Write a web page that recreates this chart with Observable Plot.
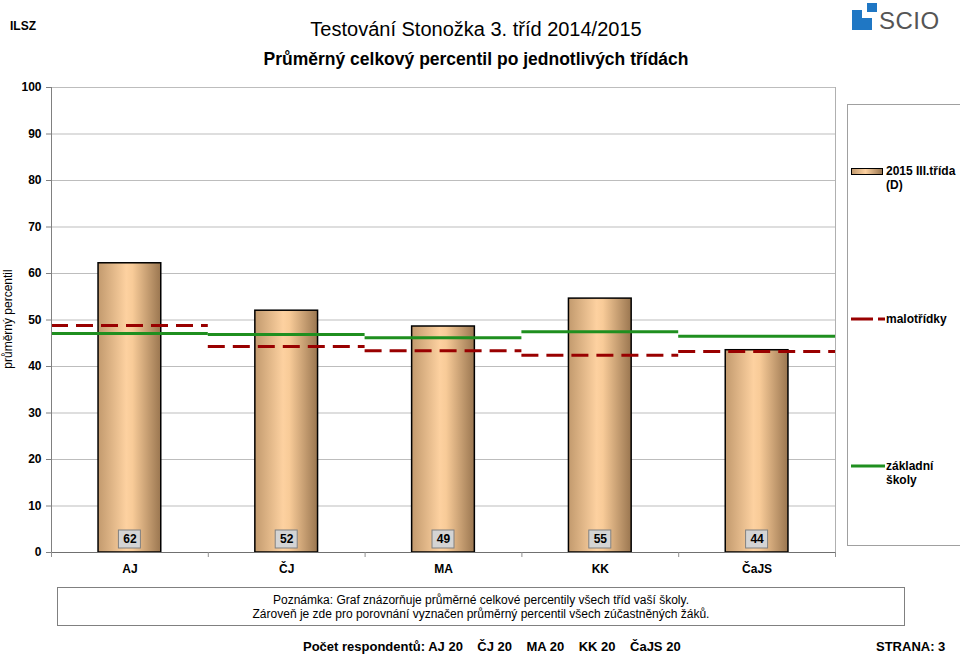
<!DOCTYPE html>
<html><head><meta charset="utf-8">
<script src="https://cdn.jsdelivr.net/npm/d3@7"></script>
<script src="https://cdn.jsdelivr.net/npm/@observablehq/plot@0.6"></script>
<style>
body{margin:0;background:#fff;font-family:"Liberation Sans",Arial,sans-serif;color:#000;}
#page{position:relative;width:960px;height:655px;overflow:hidden;background:#fff;}
.abs{position:absolute;white-space:nowrap;}
#chart{position:absolute;left:0;top:80px;}
.leg{position:absolute;font-weight:bold;font-size:12px;line-height:14px;}
</style></head><body>
<div id="page">
  <div class="abs" style="left:10px;top:19px;font-size:12px;font-weight:bold;">ILSZ</div>
  <div class="abs" style="left:0;width:952px;top:18px;text-align:center;font-size:20px;">Testování Stonožka 3. tříd 2014/2015</div>
  <div class="abs" style="left:0;width:952px;top:49px;text-align:center;font-size:17.5px;font-weight:bold;">Průměrný celkový percentil po jednotlivých třídách</div>
  <svg class="abs" style="left:850px;top:2px;" width="108" height="32">
    <rect x="2" y="8" width="20" height="20" fill="#1f77c4"/>
    <rect x="12" y="8" width="10" height="8" fill="#fff"/>
    <rect x="17" y="1" width="10" height="9" fill="#1f77c4"/>
    <text x="29" y="27" font-size="24" fill="#555" font-family="Liberation Sans, Arial, sans-serif" letter-spacing="0.5">SCIO</text>
  </svg>
  <div class="abs" style="left:-52px;top:312px;font-size:12px;line-height:14px;transform:rotate(-90deg);transform-origin:center;width:120px;text-align:center;">průměrný percentil</div>
  <div id="chart"></div>
  <div class="abs" style="left:847px;top:104px;width:140px;height:440px;border:1px solid #a0a0a0;"></div>
  <div class="abs" id="sw1" style="left:851px;top:168px;width:30px;height:5px;border:1px solid #000;"></div>
  <div class="leg" style="left:886px;top:164px;">2015 III.třída<br>(D)</div>
  <svg class="abs" style="left:851px;top:316px;" width="34" height="6"><line x1="0" x2="34" y1="3" y2="3" stroke="#990000" stroke-width="3" stroke-dasharray="22,5"/></svg>
  <div class="leg" style="left:886px;top:312px;">malotřídky</div>
  <svg class="abs" style="left:851px;top:463px;" width="34" height="6"><line x1="0" x2="34" y1="3" y2="3" stroke="#1f8f1f" stroke-width="3"/></svg>
  <div class="leg" style="left:886px;top:459px;">základní<br>školy</div>
  <div class="abs" style="left:57px;top:587px;width:846px;height:37px;border:1px solid #808080;"></div>
  <div class="abs" style="left:57px;width:848px;top:593px;text-align:center;font-size:12px;line-height:14px;">Poznámka: Graf znázorňuje průměrné celkové percentily všech tříd vaší školy.<br>Zároveň je zde pro porovnání vyznačen průměrný percentil všech zúčastněných žáků.</div>
  <div class="abs" id="resp" style="left:303px;top:639px;font-size:13px;font-weight:bold;"></div>
  <div class="abs" style="left:876px;top:639px;font-size:13px;font-weight:bold;">STRANA: 3</div>
</div>
<script>
const categories = ["AJ", "ČJ", "MA", "KK", "ČaJS"];
const classValues = [62.2, 52.0, 48.6, 54.6, 43.5];
const smallSchoolValues = [48.8, 44.3, 43.4, 42.4, 43.2];
const allSchoolValues = [47.1, 46.9, 46.2, 47.5, 46.5];
const respondents = [20, 20, 20, 20, 20];
const yTicks = [0, 10, 20, 30, 40, 50, 60, 70, 80, 90, 100];

const rows = categories.map((c, i) => ({c, i, v: classValues[i], small: smallSchoolValues[i], all: allSchoolValues[i]}));
const font = "Liberation Sans, Arial, sans-serif";

const plot = Plot.plot({
  width: 845, height: 500,
  marginLeft: 51, marginRight: 10, marginTop: 7, marginBottom: 28,
  style: {fontFamily: font, fontSize: "12px", color: "#000", background: "transparent", overflow: "visible"},
  x: {domain: [0, categories.length]},
  y: {domain: [0, 100]},
  marks: [
    Plot.gridY(yTicks, {stroke: "#bdbdbd", strokeOpacity: 1}),
    Plot.ruleX([categories.length], {stroke: "#b0b0b0"}),
    Plot.rectY(rows, {x1: d => d.i + 0.3, x2: d => d.i + 0.7, y: "v", fill: "url(#barGrad)", stroke: "#000", strokeWidth: 1.5}),
    Plot.ruleY(rows, {x1: d => d.i, x2: d => d.i + 1, y: "all", stroke: "#1f8f1f", strokeWidth: 3}),
    Plot.ruleY(rows, {x1: d => d.i, x2: d => d.i + 1, y: "small", stroke: "#990000", strokeWidth: 3, strokeDasharray: "17,8"}),
    Plot.rect(rows, {x1: d => d.i + 0.5, x2: d => d.i + 0.5, y1: 0, y2: 0, insetLeft: -11, insetRight: -11, insetTop: -22, insetBottom: 4, fill: "#d4d4d4", stroke: "#808080"}),
    Plot.text(rows, {x: d => d.i + 0.5, y: 0, dy: -13, text: d => String(Math.round(d.v)), fontWeight: "bold", fontSize: 12}),
    Plot.axisY(yTicks, {tickSize: 5, tickPadding: 5, fontWeight: "bold", stroke: "#808080", label: null}),
    Plot.ruleX([0], {stroke: "#808080"}),
    Plot.ruleY([0], {stroke: "#707070"}),
    Plot.axisX(d3.range(categories.length + 1), {tickSize: 5, tickFormat: () => "", stroke: "#909090", label: null}),
    Plot.axisX(categories.map((c, i) => i + 0.5), {tickSize: 0, tickPadding: 12, tickFormat: d => categories[Math.floor(d)], fontWeight: "bold", label: null})
  ]
});
d3.select(plot).insert("defs", ":first-child").html(
  `<linearGradient id="barGrad" x1="0" x2="1" y1="0" y2="0">
     <stop offset="0" stop-color="#c29a6e"/>
     <stop offset="0.45" stop-color="#fdd1a0"/>
     <stop offset="0.55" stop-color="#f8cb98"/>
     <stop offset="1" stop-color="#9a7650"/>
   </linearGradient>`);
document.getElementById("chart").appendChild(plot);
document.getElementById("sw1").style.background = "linear-gradient(to right,#c29a6e,#fdd1a0 45%,#9a7650)";
document.getElementById("resp").innerHTML = "Počet respondentů: " +
  categories.map((c, i) => c + " " + respondents[i]).join("&nbsp;&nbsp;&nbsp; ");
</script>
</body></html>
